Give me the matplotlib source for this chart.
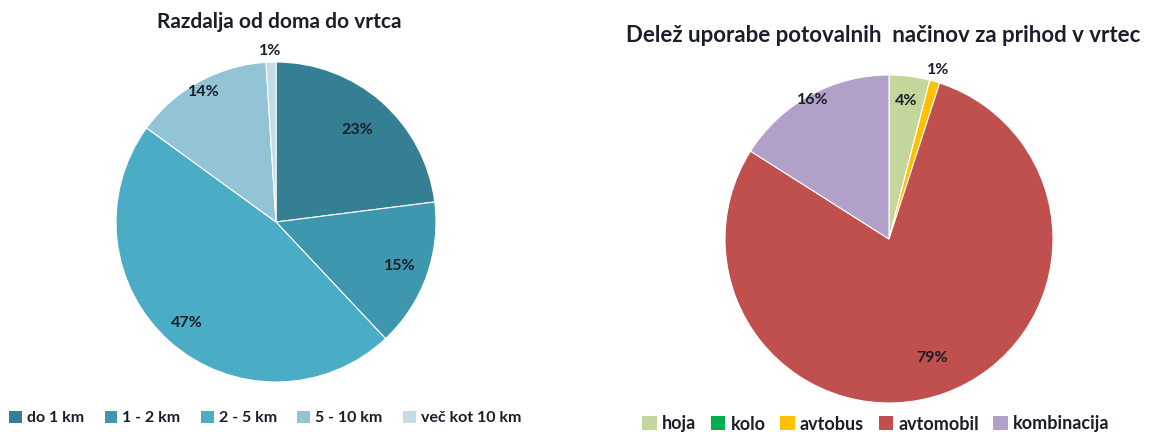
import matplotlib
matplotlib.use("Agg")
import matplotlib.pyplot as plt
import numpy as np
from matplotlib.patches import Patch

# Left chart data
dist_labels = ["do 1 km", "1 - 2 km", "2 - 5 km", "5 - 10 km", "več kot 10 km"]
dist_values = [23, 15, 47, 14, 1]
dist_colors = ["#357F95", "#3E97AE", "#4BACC6", "#93C4D5", "#C3DCE6"]
dist_label_r = [0.77, 0.82, 0.84, 0.93, 1.07]

# Right chart data
mode_labels = ["hoja", "kolo", "avtobus", "avtomobil", "kombinacija"]
mode_values = [4, 0, 1, 79, 16]
mode_colors = ["#C3D69B", "#00B050", "#FFC000", "#C0504D", "#B1A0C7"]
mode_label_r = [0.85, None, 1.07, 0.77, 0.97]

W, H = 1153, 432
fig = plt.figure(figsize=(W / 100, H / 100), dpi=100)
plt.rcParams['font.family'] = ['Lato', 'DejaVu Sans']
TXT = "#1a1d2a"

def px_axes(cx, cy, r):
    return fig.add_axes([(cx - r) / W, (H - cy - r) / H, 2 * r / W, 2 * r / H])

def draw_pie(ax, values, colors, label_r):
    wedges, _ = ax.pie(values, colors=colors, startangle=90, counterclock=False,
                       wedgeprops=dict(edgecolor="white", linewidth=0.8))
    for w, v, lr in zip(wedges, values, label_r):
        if v == 0 or lr is None:
            continue
        ang = np.deg2rad((w.theta1 + w.theta2) / 2)
        ax.text(lr * np.cos(ang), lr * np.sin(ang), f"{v}%", ha="center", va="center",
                fontsize=11.5, fontweight="bold", color=TXT)
    ax.set_xlim(-1, 1)
    ax.set_ylim(-1, 1)
    ax.set_aspect("equal")
    ax.axis("off")
    return wedges

ax1 = px_axes(276, 222, 160)
draw_pie(ax1, dist_values, dist_colors, dist_label_r)
ax2 = px_axes(889, 239, 164)
draw_pie(ax2, mode_values, mode_colors, mode_label_r)

fig.text(279 / W, 1 - 22 / H, "Razdalja od doma do vrtca", ha="center", va="center",
         fontsize=15, fontweight="bold", color=TXT)
fig.text(883 / W, 1 - 35 / H, "Delež uporabe potovalnih  načinov za prihod v vrtec", ha="center",
         va="center", fontsize=16, fontweight="bold", color=TXT)

h1 = [Patch(facecolor=c, edgecolor="none") for c in dist_colors]
fig.legend(h1, dist_labels, loc="center", bbox_to_anchor=(265 / W, 1 - 418 / H), ncol=5,
           frameon=False, prop=dict(size=11.5, weight="bold"), handlelength=0.8, handleheight=0.8,
           handletextpad=0.3, columnspacing=1.3, labelcolor=TXT)
h2 = [Patch(facecolor=c, edgecolor="none") for c in mode_colors]
fig.legend(h2, mode_labels, loc="center", bbox_to_anchor=(876 / W, 1 - 424 / H), ncol=5,
           frameon=False, prop=dict(size=13, weight="bold"), handlelength=0.8, handleheight=0.8,
           handletextpad=0.3, columnspacing=0.8, labelcolor=TXT)

fig.savefig("out.png", dpi=100)
